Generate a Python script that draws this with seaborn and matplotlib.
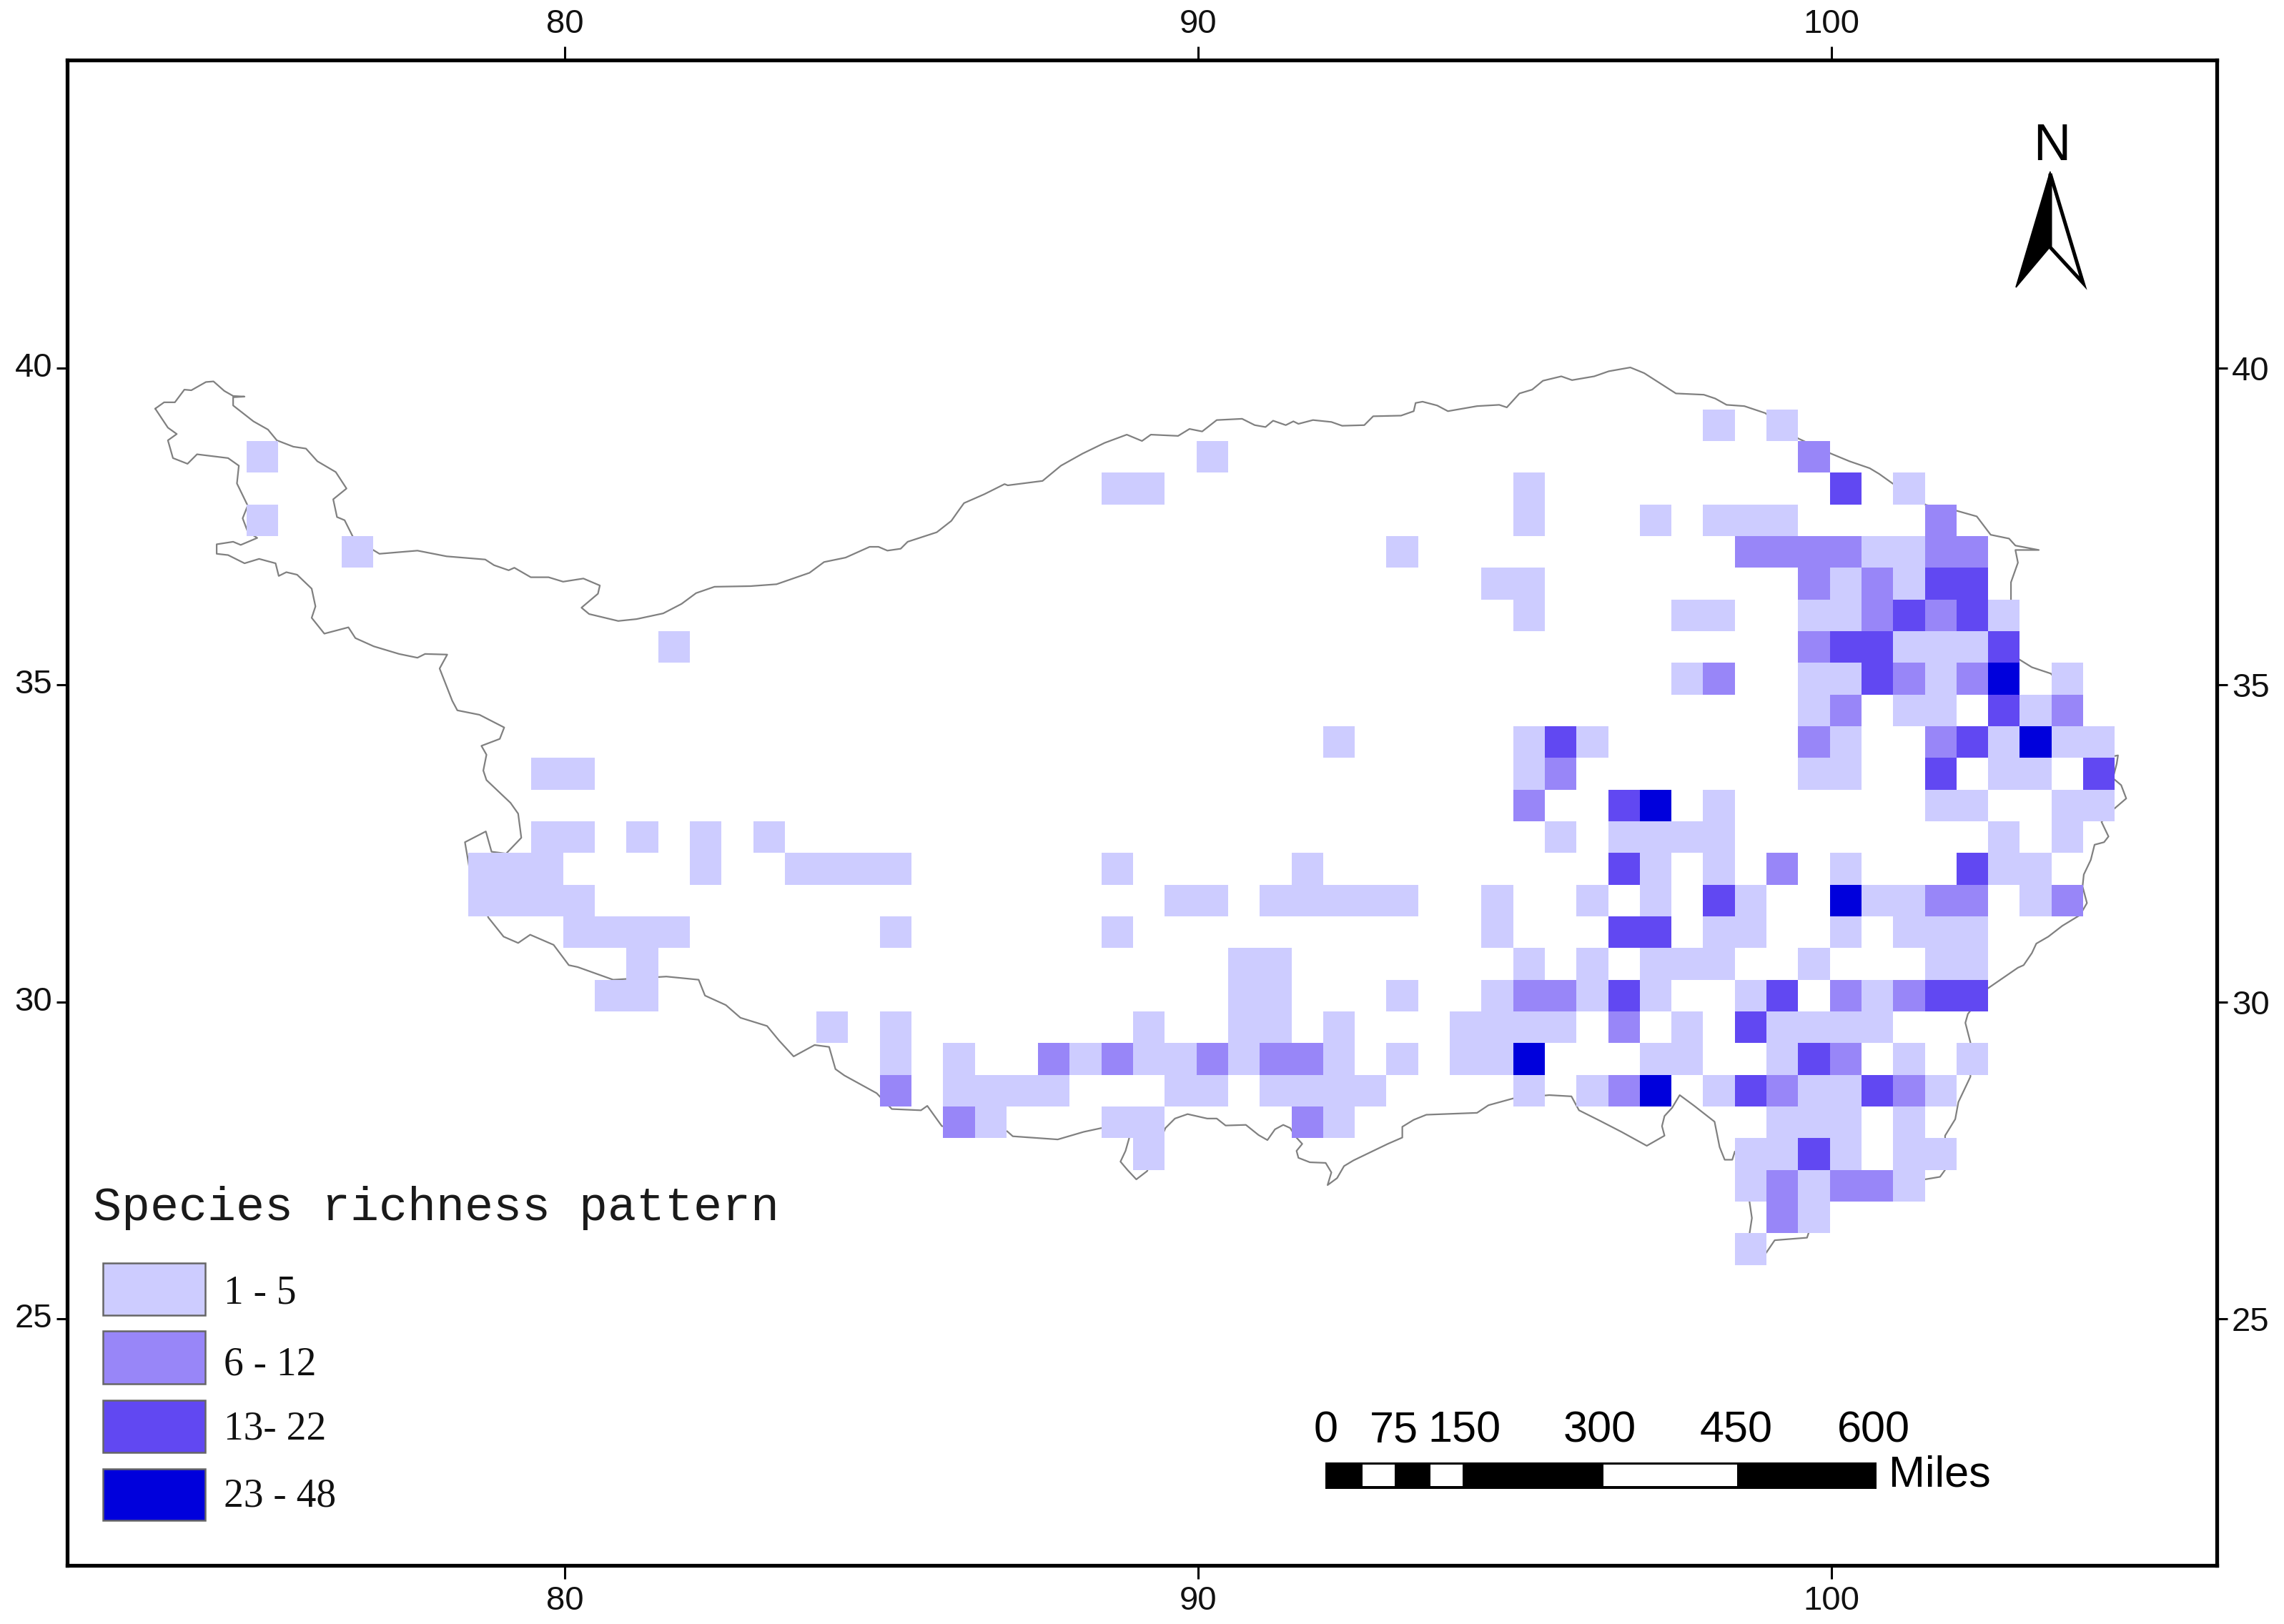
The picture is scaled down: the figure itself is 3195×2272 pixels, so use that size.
import numpy as np
import pandas as pd
import matplotlib
matplotlib.use("Agg")
import matplotlib.pyplot as plt
from matplotlib.colors import ListedColormap
from matplotlib.patches import Polygon, Rectangle
import seaborn as sns

# Half-degree cells: (col, row), col counted east from 100E, row counted south from the row at 31.35-31.85N
class_1_5 = [
    (-4,-15),(-2,-15),(-50,-14),(-20,-14),(-23,-13),(-22,-13),(-10,-13),(2,-13),
    (-50,-12),(-10,-12),(-6,-12),(-4,-12),(-3,-12),(-2,-12),(-47,-11),(-14,-11),(1,-11),(2,-11),
    (-11,-10),(-10,-10),(0,-10),(2,-10),(-10,-9),(-5,-9),(-4,-9),(-1,-9),(0,-9),(5,-9),
    (-37,-8),(2,-8),(3,-8),(4,-8),(-5,-7),(-1,-7),(0,-7),(3,-7),(7,-7),
    (-1,-6),(2,-6),(3,-6),(6,-6),(-16,-5),(-10,-5),(-8,-5),(0,-5),(5,-5),(7,-5),(8,-5),
    (-41,-4),(-40,-4),(-10,-4),(-1,-4),(0,-4),(5,-4),(6,-4),(-4,-3),(3,-3),(4,-3),(7,-3),(8,-3),
    (-41,-2),(-40,-2),(-38,-2),(-36,-2),(-34,-2),(-9,-2),(-7,-2),(-6,-2),(-5,-2),(-4,-2),(5,-2),(7,-2),
    (-43,-1),(-42,-1),(-41,-1),(-36,-1),(-33,-1),(-32,-1),(-31,-1),(-30,-1),(-23,-1),(-17,-1),(-6,-1),(-4,-1),(0,-1),(5,-1),(6,-1),
    (-43,0),(-42,0),(-41,0),(-40,0),(-21,0),(-20,0),(-18,0),(-17,0),(-16,0),(-15,0),(-14,0),(-11,0),(-8,0),(-6,0),(-3,0),(1,0),(2,0),(6,0),
    (-40,1),(-39,1),(-38,1),(-37,1),(-30,1),(-23,1),(-11,1),(-4,1),(-3,1),(0,1),(2,1),(3,1),(4,1),
    (-38,2),(-19,2),(-18,2),(-10,2),(-8,2),(-6,2),(-5,2),(-4,2),(-1,2),(3,2),(4,2),
    (-39,3),(-38,3),(-19,3),(-18,3),(-14,3),(-11,3),(-8,3),(-6,3),(-3,3),(1,3),
    (-32,4),(-30,4),(-22,4),(-19,4),(-18,4),(-16,4),(-12,4),(-11,4),(-10,4),(-9,4),(-5,4),(-2,4),(-1,4),(0,4),(1,4),
    (-30,5),(-28,5),(-24,5),(-22,5),(-21,5),(-19,5),(-16,5),(-14,5),(-12,5),(-11,5),(-6,5),(-5,5),(-2,5),(2,5),(4,5),
    (-28,6),(-27,6),(-26,6),(-25,6),(-21,6),(-20,6),(-18,6),(-17,6),(-16,6),(-15,6),(-10,6),(-8,6),(-4,6),(-1,6),(0,6),(3,6),
    (-27,7),(-23,7),(-22,7),(-16,7),(-2,7),(-1,7),(0,7),(2,7),(-22,8),(-3,8),(-2,8),(0,8),(2,8),(3,8),
    (-3,9),(-1,9),(2,9),(-1,10),(-3,11),
]
class_6_12 = [
    (-1,-14),(3,-12),(-3,-11),(-2,-11),(-1,-11),(0,-11),(3,-11),(4,-11),(-1,-10),(1,-10),(1,-9),(3,-9),(-1,-8),
    (-4,-7),(2,-7),(4,-7),(0,-6),(7,-6),(-1,-5),(3,-5),(-9,-4),(-10,-3),(-2,-1),(3,0),(4,0),(7,0),
    (-10,3),(-9,3),(0,3),(2,3),(-7,4),(0,5),(-25,5),(-23,5),(-20,5),(-18,5),(-17,5),
    (-30,6),(-7,6),(-2,6),(2,6),(-28,7),(-17,7),(-2,9),(0,9),(1,9),(-2,10),
]
class_13_22 = [
    (0,-13),(3,-10),(4,-10),(2,-9),(4,-9),(0,-8),(1,-8),(5,-8),(1,-7),(5,-6),(-9,-5),(4,-5),(3,-4),(8,-4),(-7,-3),
    (-7,-1),(4,-1),(-4,0),(-7,1),(-6,1),(-7,3),(-2,3),(3,3),(4,3),(-3,4),(-1,5),(-3,6),(1,6),(-1,8),
]
class_23_48 = [(5,-7),(6,-5),(-6,-3),(0,0),(-10,5),(-6,6)]

legend_labels = ["1 - 5", "6 - 12", "13- 22", "23 - 48"]
class_colors = ["#CDCCFF", "#9886F8", "#6148F2", "#0000DC"]
scale_miles = ["0", "75", "150", "300", "450", "600"]
lon_ticks = [80, 90, 100]
lat_ticks = [25, 30, 35, 40]

boundary = [
    (73.53,39.36),(73.67,39.46),(73.84,39.46),(73.99,39.66),(74.10,39.65),(74.33,39.78),(74.45,39.79),(74.62,39.64),
    (74.76,39.56),(74.94,39.55),(74.76,39.54),(74.76,39.41),(75.08,39.16),(75.31,39.03),(75.45,38.86),(75.71,38.76),
    (75.91,38.73),(76.09,38.53),(76.38,38.36),(76.55,38.10),(76.34,37.93),(76.40,37.65),(76.52,37.60),(76.66,37.32),
    (77.07,37.07),(77.67,37.12),(78.13,37.03),(78.74,36.98),(78.88,36.89),(79.11,36.81),(79.20,36.85),(79.46,36.70),
    (79.74,36.70),(79.97,36.63),(80.29,36.68),(80.55,36.57),(80.52,36.44),(80.26,36.22),(80.38,36.12),(80.84,36.01),
    (81.13,36.04),(81.55,36.13),(81.84,36.28),(82.07,36.45),(82.36,36.55),(82.93,36.56),(83.34,36.59),(83.86,36.77),
    (84.09,36.94),(84.43,37.01),(84.81,37.18),(84.95,37.18),(85.09,37.12),(85.30,37.15),(85.41,37.26),(85.87,37.41),
    (86.10,37.59),(86.22,37.76),(86.30,37.87),(86.62,38.01),(86.94,38.17),(86.99,38.15),(87.54,38.22),(87.83,38.46),
    (88.17,38.65),(88.52,38.82),(88.87,38.95),(89.11,38.85),(89.25,38.95),(89.68,38.93),(89.86,39.04),(90.06,39.00),
    (90.29,39.18),(90.69,39.20),(90.89,39.10),(91.06,39.07),(91.18,39.17),(91.38,39.10),(91.50,39.16),(91.58,39.12),
    (91.81,39.18),(92.10,39.15),(92.27,39.09),(92.62,39.10),(92.76,39.24),(93.20,39.25),(93.40,39.32),(93.43,39.45),
    (93.54,39.47),(93.77,39.41),(93.94,39.32),(94.40,39.40),(94.75,39.42),(94.87,39.38),(95.07,39.60),(95.27,39.66),
    (95.44,39.80),(95.73,39.87),(95.90,39.81),(96.25,39.87),(96.48,39.95),(96.82,40.01),(97.04,39.92),(97.54,39.60),
    (97.98,39.58),(98.16,39.52),(98.34,39.42),(98.62,39.40),(98.95,39.29),(99.47,38.89),(99.99,38.65),(100.28,38.53),
    (100.60,38.42),(100.75,38.33),(100.96,38.18),(101.49,37.84),(101.97,37.75),(102.29,37.66),(102.51,37.37),(102.80,37.31),
    (102.90,37.20),(103.27,37.13),(102.90,37.13),(102.94,36.93),(102.83,36.62),(102.83,36.35),(102.95,35.41),(103.16,35.28),
    (103.46,35.18),(103.70,34.90),(103.75,34.40),(104.30,34.10),(104.42,33.87),(104.52,33.89),(104.50,33.76),(104.44,33.53),
    (104.57,33.42),(104.65,33.21),(104.44,33.03),
    (104.26,32.84),(104.37,32.61),(104.30,32.52),(104.15,32.48),(104.09,32.24),(103.98,32.01),(103.96,31.82),(104.03,31.56),
    (103.92,31.37),(103.64,31.20),(103.42,31.03),(103.23,30.92),(103.16,30.77),(103.03,30.58),(102.94,30.54),(102.46,30.21),
    (102.15,29.81),(102.11,29.67),(102.19,29.36),(102.19,28.82),(102.00,28.42),(101.95,28.15),(101.79,27.89),(101.79,27.35),
    (101.71,27.24),(101.47,27.20),(100.90,27.00),(100.00,26.95),(99.75,26.70),(99.61,26.28),(99.10,26.24),(98.95,26.02),
    (98.70,26.33),(98.74,26.59),(98.70,26.86),
    (98.47,27.64),(98.43,27.51),(98.31,27.51),(98.23,27.71),(98.15,28.11),(97.83,28.36),(97.60,28.53),(97.48,28.33),
    (97.36,28.20),(97.32,28.04),(97.36,27.89),(97.08,27.73),(96.68,27.95),(96.33,28.13),(96.01,28.29),(95.89,28.51),
    (95.54,28.53),(94.98,28.48),(94.58,28.37),(94.40,28.25),(93.60,28.22),(93.40,28.14),(93.22,28.03),(93.22,27.86),
    (92.99,27.76),(92.45,27.50),(92.30,27.41),(92.19,27.22),(92.04,27.11),(92.10,27.31),(92.01,27.46),(91.76,27.47),
    (91.58,27.54),(91.55,27.65),(91.64,27.76),(91.53,27.88),(91.45,28.01),(91.34,28.06),(91.21,27.99),(91.09,27.82),
    (90.95,27.90),(90.75,28.06),(90.43,28.05),(90.29,28.16),(90.14,28.16),(89.83,28.23),(89.63,28.16),(89.48,28.01),
    (89.19,27.33),(89.02,27.20),(88.88,27.35),(88.77,27.48),(88.85,27.65),(88.91,27.86),(88.47,28.01),(88.19,27.95),
    (87.78,27.83),(87.07,27.88),(86.98,27.96),(85.95,28.04),(85.72,28.36),(85.62,28.29),(85.16,28.31),(84.92,28.56),
    (84.41,28.84),(84.27,28.94),(84.17,29.29),(83.94,29.32),(83.61,29.14),(83.38,29.39),(83.19,29.62),(82.77,29.75),
    (82.54,29.95),(82.21,30.10),(82.11,30.35),(81.60,30.40),(80.76,30.35),(80.20,30.55),(80.06,30.58),(79.82,30.90),
    (79.45,31.06),(79.26,30.93),(79.03,31.03),(78.79,31.33),(78.49,32.11),(78.42,32.52),(78.75,32.69),(78.84,32.37),
    (79.07,32.34),(79.31,32.59),(79.26,32.97),(79.14,33.14),(78.76,33.50),(78.71,33.65),(78.76,33.90),(78.68,34.04),
    (78.97,34.15),(79.04,34.33),(78.65,34.53),(78.30,34.60),(78.22,34.75),(78.02,35.26),(78.14,35.48),(77.79,35.49),
    (77.67,35.43),(77.38,35.49),(76.98,35.61),(76.69,35.74),(76.58,35.91),(76.20,35.81),(76.00,36.06),(76.06,36.24),
    (76.00,36.52),(75.77,36.74),(75.60,36.78),(75.48,36.72),(75.43,36.92),(75.17,36.99),(74.94,36.92),(74.68,37.05),
    (74.50,37.07),(74.50,37.22),(74.76,37.26),(74.88,37.21),(75.14,37.32),(74.99,37.42),(74.91,37.63),(74.99,37.83),
    (74.82,38.18),(74.85,38.46),(74.68,38.58),(74.19,38.64),(74.04,38.49),(73.81,38.58),(73.73,38.86),(73.87,38.96),
    (73.73,39.06),(73.53,39.36),
]
boundary_lon = [p[0] for p in boundary]
boundary_lat = [p[1] for p in boundary]

sns.set_theme(style="white")
plt.rcParams["font.family"] = ["Liberation Sans", "DejaVu Sans"]

W, H = 3195, 2272
fig = plt.figure(figsize=(W / 200, H / 200), dpi=200, facecolor="white")
ax = fig.add_axes([94 / W, (H - 2190) / H, (3101 - 94) / W, (2190 - 84) / H])

# Grid of richness classes for the heatmap
all_cells = class_1_5 + class_6_12 + class_13_22 + class_23_48
c_min = min(c for c, _ in all_cells)
c_max = max(c for c, _ in all_cells)
r_min = min(r for _, r in all_cells)
r_max = max(r for _, r in all_cells)
grid = np.full((r_max - r_min + 1, c_max - c_min + 1), np.nan)
for value, cells in enumerate([class_1_5, class_6_12, class_13_22, class_23_48], start=1):
    for c, r in cells:
        grid[r - r_min, c - c_min] = value
frame = pd.DataFrame(grid)

lon_edge0, lat_edge0, step = 99.97, 31.85, 0.5
def xpos(lon):
    return (np.asarray(lon, dtype=float) - lon_edge0) / step - c_min
def ypos(lat):
    return (lat_edge0 - np.asarray(lat, dtype=float)) / step - r_min

sns.heatmap(frame, ax=ax, cmap=ListedColormap(class_colors), vmin=0.5, vmax=4.5,
            cbar=False, linewidths=0, square=False, zorder=2)

sns.lineplot(x=xpos(boundary_lon), y=ypos(boundary_lat), sort=False, estimator=None,
             ax=ax, color="#808080", linewidth=0.8, zorder=1)

ax.set_xlim(xpos(72.14), xpos(106.08))
ax.set_ylim(ypos(21.11), ypos(44.86))
ax.set_xlabel("")
ax.set_ylabel("")
ax.set_xticks(xpos(lon_ticks))
ax.set_xticklabels([str(v) for v in lon_ticks], rotation=0)
ax.set_yticks(ypos(lat_ticks))
ax.set_yticklabels([str(v) for v in lat_ticks], rotation=0)
ax.tick_params(axis="x", top=True, bottom=True, labeltop=True, labelbottom=True,
               length=7, width=1.1, pad=3, labelsize=17, color="black", labelcolor="#111111")
ax.tick_params(axis="y", left=True, right=True, labelleft=True, labelright=True,
               length=5.5, width=1.1, pad=2, labelsize=17, color="black", labelcolor="#111111")
for s in ax.spines.values():
    s.set_visible(True)
    s.set_linewidth(1.9)
    s.set_color("black")

# Furniture layer in reference pixel coordinates
ov = fig.add_axes([0, 0, 1, 1], facecolor="none")
ov.set_xlim(0, W)
ov.set_ylim(H, 0)
ov.axis("off")

# North arrow
ov.add_patch(Polygon([(2868, 243), (2914, 396), (2868, 346)], closed=True, fc="white", ec="black", lw=1.8, joinstyle="miter"))
ov.add_patch(Polygon([(2868, 240), (2820, 402), (2868, 345)], closed=True, fc="black", ec="black", lw=0.6))
ov.text(2870, 206, "N", fontsize=26, ha="center", va="center", color="black")

# Legend
ov.text(130, 1690, "Species richness pattern", family=["Liberation Mono", "DejaVu Sans Mono"],
        fontsize=24, ha="left", va="center", color="#1a1a1a")
swatches = [(1767, 1840), (1862, 1936), (1959, 2032), (2055, 2127)]
label_y = [1810, 1910, 2000, 2093]
for (y0, y1), color, label, ly in zip(swatches, class_colors, legend_labels, label_y):
    ov.add_patch(Rectangle((144, y0), 143, y1 - y0, fc=color, ec="#666666", lw=0.9))
    ov.text(313, ly, label, family=["Liberation Serif"], fontsize=20, ha="left", va="center", color="#111111")

# Scale bar
ov.add_patch(Rectangle((1854, 2046), 771, 37, fc="black", ec="none"))
for x0, x1 in [(1906, 1951), (2001, 2046), (2243, 2430)]:
    ov.add_patch(Rectangle((x0, 2049), x1 - x0, 30, fc="white", ec="none"))
for text, x in zip(scale_miles, [1855, 1950, 2048, 2238, 2429, 2621]):
    ov.text(x, 2002, text, fontsize=22, ha="center", va="center", color="black")
ov.text(2642, 2080, "Miles", fontsize=22, ha="left", va="baseline", color="black")

fig.savefig("out.png", dpi=200, facecolor="white")
